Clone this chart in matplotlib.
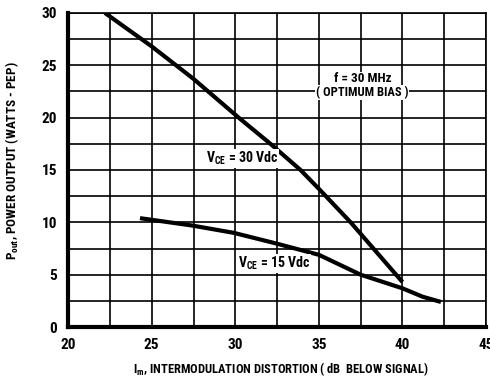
import matplotlib
matplotlib.use("Agg")
import matplotlib.pyplot as plt
from matplotlib import font_manager as fm
import numpy as np

names = {f.name for f in fm.fontManager.ttflist}
fam = None
for cand in ["Liberation Sans Narrow", "Roboto Condensed", "Open Sans Condensed", "Roboto", "Liberation Sans"]:
    if cand in names:
        fam = cand
        break
plt.rcParams['font.family'] = [fam, "DejaVu Sans"] if fam else ["DejaVu Sans"]
plt.rcParams['mathtext.fontset'] = 'custom'
if fam:
    plt.rcParams['mathtext.rm'] = fam + ':bold'
    plt.rcParams['mathtext.bf'] = fam + ':bold'
    plt.rcParams['mathtext.it'] = fam + ':bold'

# Data
x_30 = [22.2, 25.0, 27.5, 30.2, 32.1, 33.9, 35.0, 36.9, 37.5, 40.0]
y_30 = [30.0, 26.8, 23.7, 20.0, 17.5, 15.0, 13.2, 10.0, 8.9, 4.3]
x_15 = [24.3, 27.4, 29.9, 32.4, 35.0, 37.5, 40.0, 41.2, 42.3]
y_15 = [10.4, 9.7, 9.0, 8.0, 6.9, 5.0, 3.7, 2.9, 2.4]
xticks = [20, 25, 30, 35, 40, 45]
yticks = [0, 5, 10, 15, 20, 25, 30]

fig = plt.figure(figsize=(4.9, 3.79), dpi=100)
ax = fig.add_axes([0.139, 0.137, 0.853, 0.829])
ax.set_xlim(20, 45)
ax.set_ylim(0, 30)
ax.set_xticks(xticks)
ax.set_yticks(yticks)
ax.set_xticks(np.arange(20, 45.1, 2.5), minor=True)
ax.set_yticks(np.arange(0, 30.1, 2.5), minor=True)
ax.grid(True, which='both', color='black', lw=1.2)
ax.tick_params(which='both', length=0, labelsize=11, pad=8)
for lab in ax.get_xticklabels() + ax.get_yticklabels():
    lab.set_fontweight('bold')
for s in ['left', 'bottom']:
    ax.spines[s].set_linewidth(3)
for s in ['top', 'right']:
    ax.spines[s].set_linewidth(1.2)

ax.plot(x_30, y_30, color='black', lw=3, solid_capstyle='butt', zorder=3)
ax.plot(x_15, y_15, color='black', lw=3, solid_capstyle='butt', zorder=3)

bbox = dict(facecolor='white', edgecolor='none', pad=0.5)
ax.text(37.6, 23.7, "f = 30 MHz", ha='center', va='center', fontsize=9.5, fontweight='bold', bbox=bbox, zorder=4)
ax.text(37.6, 22.4, "( OPTIMUM BIAS )", ha='center', va='center', fontsize=9, fontweight='bold', bbox=bbox, zorder=4)
ax.text(30.4, 16.1, r"V$_{\mathrm{CE}}$ = 30 Vdc", ha='center', va='center', fontsize=10, fontweight='bold', bbox=bbox, zorder=4)
ax.text(32.3, 6.1, r"V$_{\mathrm{CE}}$ = 15 Vdc", ha='center', va='center', fontsize=10, fontweight='bold', bbox=bbox, zorder=4)

ax.set_xlabel(r"I$_{\mathrm{m}}$, INTERMODULATION DISTORTION ( dB  BELOW SIGNAL)", fontsize=9, fontweight='bold')
ax.set_ylabel(r"P$_{\mathrm{out}}$, POWER OUTPUT (WATTS - PEP)", fontsize=9.5, fontweight='bold')
ax.xaxis.set_label_coords(0.51, -0.105)
ax.yaxis.set_label_coords(-0.112, 0.53)

fig.savefig("out.png", dpi=100)
